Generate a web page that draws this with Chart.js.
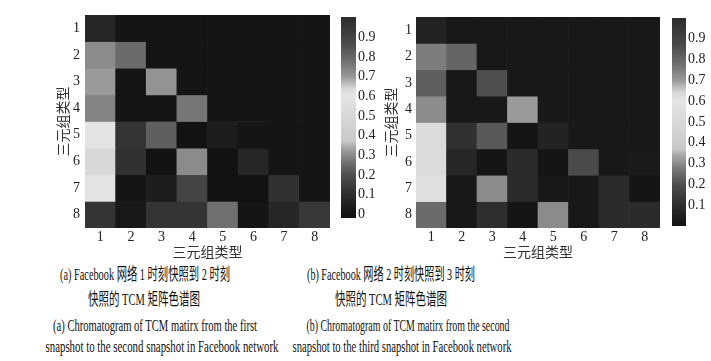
<!DOCTYPE html>
<html>
<head>
<meta charset="utf-8">
<script src="https://cdn.jsdelivr.net/npm/chart.js@4.4.1/dist/chart.umd.min.js"></script>
<style>
body { margin: 0; background: #fff; width: 711px; height: 361px; overflow: hidden; position: relative;
       font-family: "Liberation Serif", "Noto Sans CJK SC", serif; color: #111; }
canvas { position: absolute; }
.cap { position: absolute; white-space: nowrap; font-size: 16.5px; line-height: 18px; transform-origin: center; }
</style>
</head>
<body>
<canvas id="heatA" width="300" height="260" style="left:40px;top:0;width:300px;height:260px"></canvas>
<canvas id="barA" width="50" height="260" style="left:330px;top:0;width:50px;height:260px"></canvas>
<canvas id="heatB" width="300" height="260" style="left:370px;top:0;width:300px;height:260px"></canvas>
<canvas id="barB" width="46" height="260" style="left:665px;top:0;width:46px;height:260px"></canvas>

<div class="cap" data-w="170" style="left:145px;top:266px">(a) Facebook 网络 1 时刻快照到 2 时刻</div>
<div class="cap" data-w="112" style="left:144px;top:291px">快照的 TCM 矩阵色谱图</div>
<div class="cap" data-w="204" style="left:155px;top:317px">(a) Chromatogram of TCM matirx from the first</div>
<div class="cap" data-w="233" style="left:162px;top:338px">snapshot to the second snapshot in Facebook network</div>
<div class="cap" data-w="168" style="left:391px;top:266px">(b) Facebook 网络 2 时刻快照到 3 时刻</div>
<div class="cap" data-w="112" style="left:391px;top:291px">快照的 TCM 矩阵色谱图</div>
<div class="cap" data-w="203" style="left:408px;top:317px">(b) Chromatogram of TCM matirx from the second</div>
<div class="cap" data-w="219" style="left:402px;top:338px">snapshot to the third snapshot in Facebook network</div>

<script>
// triad types (rows and columns)
const typeLabels = ['1', '2', '3', '4', '5', '6', '7', '8'];
const axisTitle = '三元组类型';

// TCM matrix, snapshot 1 -> 2 (rows 1..8)
const tcmA = [
    [0.07, 0.01, 0.01, 0.01, 0.01, 0.01, 0.01, 0.01],
    [0.30, 0.25, 0.01, 0.01, 0.01, 0.01, 0.01, 0.01],
    [0.32, 0.01, 0.31, 0.01, 0.01, 0.01, 0.01, 0.01],
    [0.29, 0.01, 0.01, 0.27, 0.01, 0.01, 0.01, 0.01],
    [0.59, 0.12, 0.23, 0.00, 0.04, 0.01, 0.01, 0.01],
    [0.50, 0.11, 0.00, 0.30, 0.00, 0.07, 0.01, 0.01],
    [0.58, 0.01, 0.04, 0.17, 0.00, 0.00, 0.11, 0.01],
    [0.12, 0.02, 0.12, 0.12, 0.26, 0.01, 0.07, 0.13]
];

// TCM matrix, snapshot 2 -> 3
const tcmB = [
    [0.06, 0.02, 0.02, 0.02, 0.02, 0.02, 0.02, 0.02],
    [0.28, 0.24, 0.02, 0.02, 0.02, 0.02, 0.02, 0.02],
    [0.23, 0.02, 0.20, 0.02, 0.02, 0.02, 0.02, 0.02],
    [0.30, 0.02, 0.02, 0.32, 0.02, 0.02, 0.02, 0.02],
    [0.54, 0.11, 0.22, 0.01, 0.06, 0.02, 0.02, 0.02],
    [0.54, 0.07, 0.01, 0.09, 0.01, 0.19, 0.02, 0.03],
    [0.56, 0.02, 0.30, 0.09, 0.02, 0.02, 0.09, 0.01],
    [0.25, 0.02, 0.10, 0.01, 0.30, 0.02, 0.09, 0.09]
];

// colour bar ticks
const cbTicksA = [0, 0.1, 0.2, 0.3, 0.4, 0.5, 0.6, 0.7, 0.8, 0.9];
const cbTicksB = [0.1, 0.2, 0.3, 0.4, 0.5, 0.6, 0.7, 0.8, 0.9];

// colour map (value -> gray level), dark at both ends, light in the middle
const cmapPos  = [0, 0.1, 0.2, 0.27, 0.34, 0.37, 0.45, 0.54, 0.6, 0.64, 0.7, 0.79, 0.87, 1.0];
const cmapGray = [18, 46, 78, 118, 168, 200, 210, 220, 230, 216, 152, 106, 74, 44];

function grayOf(g) {
    g = Math.round(g);
    return `rgb(${g},${g},${g})`;
}

function cmap(v) {
    if (v <= cmapPos[0]) return grayOf(cmapGray[0]);
    for (let i = 1; i < cmapPos.length; i++) {
        if (v <= cmapPos[i]) {
            const t = (v - cmapPos[i - 1]) / (cmapPos[i] - cmapPos[i - 1]);
            return grayOf(cmapGray[i - 1] + t * (cmapGray[i] - cmapGray[i - 1]));
        }
    }
    return grayOf(cmapGray[cmapGray.length - 1]);
}

Chart.defaults.font.family = '"Liberation Serif", "Noto Sans CJK SC", serif';
Chart.defaults.font.size = 14;
Chart.defaults.color = '#222';
Chart.defaults.animation = false;

const titleFont = { family: '"Noto Sans CJK SC", sans-serif', size: 14 };

function heatmap(id, matrix, g) {
    const ctx = document.getElementById(id).getContext('2d');
    new Chart(ctx, {
        type: 'bar',
        data: {
            labels: typeLabels,
            datasets: matrix.map((row, r) => ({
                label: typeLabels[r],
                data: row.map(() => 1),
                backgroundColor: row.map(v => cmap(v)),
                borderWidth: 0,
                barPercentage: 1,
                categoryPercentage: 1
            }))
        },
        options: {
            responsive: false,
            layout: { padding: { left: 0, top: g.top, right: g.right, bottom: 0 } },
            plugins: { legend: { display: false }, tooltip: { enabled: false } },
            scales: {
                x: {
                    stacked: true,
                    grid: { display: false, drawTicks: false },
                    border: { display: false },
                    ticks: { padding: 1 },
                    title: { display: true, text: axisTitle, font: titleFont, color: '#333', padding: { top: 0, bottom: 0 } },
                    afterFit: s => { s.height = g.xh; }
                },
                y: {
                    stacked: true,
                    reverse: true,
                    min: 0,
                    max: typeLabels.length,
                    grid: { display: false, drawTicks: false },
                    border: { display: false },
                    afterBuildTicks: s => { s.ticks = typeLabels.map((l, i) => ({ value: i + 0.5 })); },
                    ticks: { padding: g.tp, callback: (v, i) => typeLabels[i] },
                    title: { display: true, text: axisTitle, font: titleFont, color: '#333', padding: { top: g.titlePad, bottom: 0 } },
                    afterFit: s => { s.width = g.yw; }
                }
            }
        }
    });
}

function colorbar(id, ticks, g) {
    const ctx = document.getElementById(id).getContext('2d');
    new Chart(ctx, {
        type: 'bar',
        data: {
            labels: ['cb'],
            datasets: [{
                data: [[g.min, g.max]],
                borderWidth: 0,
                barPercentage: 1,
                categoryPercentage: 1,
                backgroundColor: c => {
                    const chart = c.chart;
                    if (!chart.chartArea) return '#444';
                    const y = chart.scales.y;
                    const grad = chart.ctx.createLinearGradient(0, y.getPixelForValue(0), 0, y.getPixelForValue(1));
                    cmapPos.forEach((p, i) => grad.addColorStop(p, grayOf(cmapGray[i])));
                    return grad;
                }
            }]
        },
        options: {
            responsive: false,
            layout: { padding: { left: g.left, top: g.top, right: 0, bottom: g.bottom } },
            plugins: { legend: { display: false }, tooltip: { enabled: false } },
            scales: {
                x: { display: false },
                y: {
                    position: 'right',
                    min: g.min,
                    max: g.max,
                    grid: { display: false, drawTicks: false },
                    border: { display: false },
                    afterBuildTicks: s => { s.ticks = ticks.map(v => ({ value: v })); },
                    ticks: { padding: 2, callback: v => String(v) },
                    afterFit: s => { s.width = g.w; }
                }
            }
        }
    });
}

heatmap('heatA', tcmA, { top: 15, right: 10, xh: 32, yw: 45, tp: 5, titlePad: 14 });
heatmap('heatB', tcmB, { top: 17, right: 10, xh: 32, yw: 46, tp: 4, titlePad: 12 });
colorbar('barA', cbTicksA, { left: 11, top: 17, bottom: 42, w: 24, min: -0.019, max: 1.003 });
colorbar('barB', cbTicksB, { left: 7, top: 18, bottom: 34, w: 25, min: 0, max: 1.0 });

// squeeze caption lines to their widths in the figure
document.querySelectorAll('.cap').forEach(el => {
    const w = el.getBoundingClientRect().width;
    el.style.transform = `translateX(-50%) scaleX(${parseFloat(el.dataset.w) / w})`;
});
</script>
</body>
</html>
